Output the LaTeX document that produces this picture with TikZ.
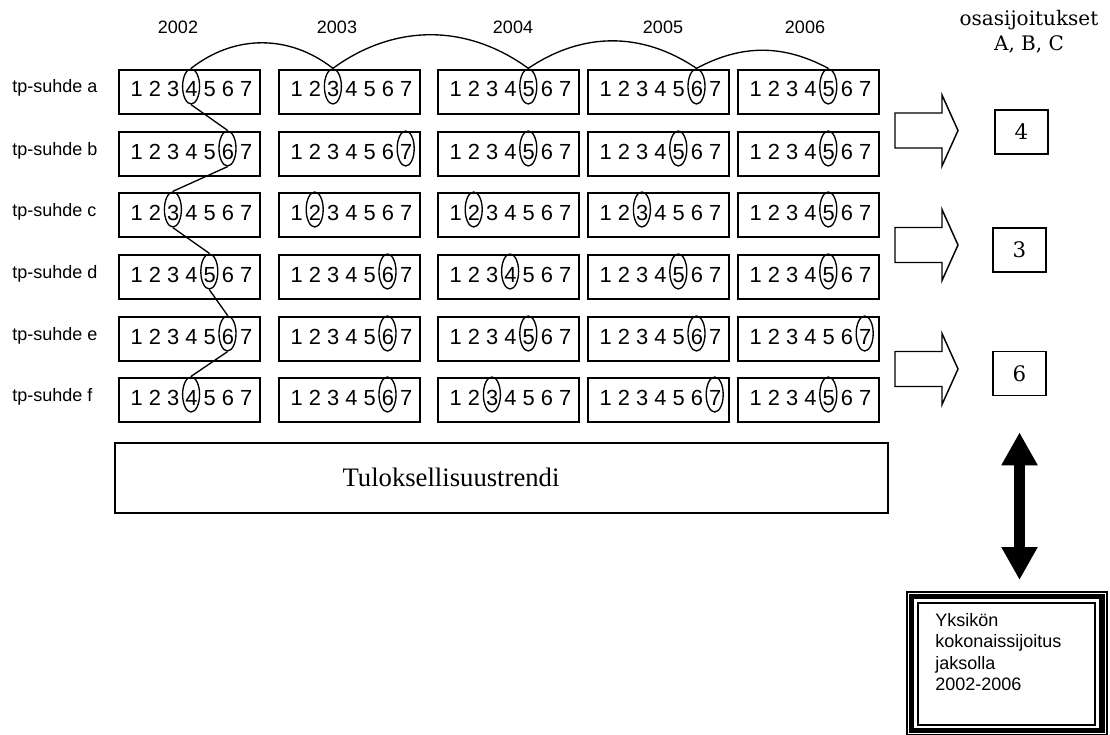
\documentclass[tikz,border=0pt]{standalone}
\usepackage{fontspec}
\setsansfont{Liberation Sans}
\newfontfamily\bookserif{DejaVu Serif}
\newfontfamily\timesserif{Liberation Serif}
\usepackage{tikz}
\usetikzlibrary{arrows.meta,positioning,calc,shapes.geometric}

\begin{document}
\begin{tikzpicture}[x=.75pt,y=-.75pt,font=\sffamily,
 numbox/.style={draw,line width=1.4pt,anchor=north west,minimum width=105.75pt,minimum height=33pt,inner sep=0pt},
 digits/.style={anchor=base,inner sep=0pt,font=\sffamily\fontsize{16.4}{19}\selectfont},
 pick/.style={draw,ellipse,line width=1pt,minimum width=12.75pt,minimum height=26.25pt,inner sep=0pt},
 lbl/.style={inner sep=0pt,font=\sffamily\fontsize{13.5}{16}\selectfont},
 rank/.style={draw,line width=1.2pt,minimum width=39.75pt,minimum height=33pt,inner sep=0pt,font=\bookserif\fontsize{16}{19}\selectfont},
 link/.style={line width=1pt}]
\useasboundingbox (0,0) rectangle (1110,735);
\foreach \yr/\x in {2002/178,2003/337,2004/513,2005/663,2006/805}
 \node[lbl,anchor=base] (y\yr) at (\x,34) {\yr};
\foreach \row/\ty/\ka/\kb/\kc/\kd/\ke in {a/69/4/3/5/6/5,b/131/6/7/5/5/5,c/192/3/2/2/3/5,d/254/5/6/4/5/5,e/316/6/6/5/6/7,f/377/4/6/3/7/5}{
 \node[lbl,anchor=base west] (l-\row) at ({12},{\ty+24}) {tp-suhde \row};
 \foreach \col/\bx/\pk in {1/118/\ka,2/278/\kb,3/437/\kc,4/587/\kd,5/737/\ke}{
  \node[numbox] (b-\row-\col) at (\bx,\ty) {};
  \node[digits] (t-\row-\col) at ({\bx+73.5},{\ty+28}) {1 2 3 4 5 6 7};
  \node[pick] (p-\row-\col) at ({\bx+18.5+18.2*(\pk-1)},{\ty+17.5}) {};
 }
}
\draw[link] (p-a-1.north) to[bend left=38] (p-a-2.north) to[bend left=36] (p-a-3.north)
 to[bend left=34] (p-a-4.north) to[bend left=28] (p-a-5.north);
\foreach \u/\v in {a/b,b/c,c/d,d/e,e/f}
 \draw[link] (p-\u-1.south) -- (p-\v-1.north);
\foreach \yc in {130.5,245,369}
 \draw[line width=1.1pt] ({895},{\yc-17.5}) -- ({942},{\yc-17.5}) -- ({942},{\yc-35.5}) -- ({958},{\yc})
  -- ({942},{\yc+35.5}) -- ({942},{\yc+17.5}) -- ({895},{\yc+17.5}) -- cycle;
\node[font=\bookserif\fontsize{15}{18.75}\selectfont,align=center,inner sep=0pt] (head) at (1029,32) {osasijoitukset\\A, B, C};
\node[rank] (r1) at (1021.5,132) {4};
\node[rank] (r2) at (1019.5,250) {3};
\node[rank] (r3) at (1019.5,373.5) {6};
\node[draw,line width=1.3pt,anchor=north west,minimum width=579.75pt,minimum height=52.5pt] (trend) at (114,442) {};
\node[font=\timesserif\fontsize{20}{24}\selectfont] (trendtxt) at (451,477) {Tuloksellisuustrendi};
\node[draw,line width=1.4pt,anchor=north west,minimum width=150pt,minimum height=107.25pt] (total) at (906,591) {};
\draw[line width=4.2pt] ([shift={(5.5,5.5)}]total.north west) rectangle ([shift={(-6,-5.5)}]total.south east);
\draw[line width=1.4pt] ([shift={(12,12)}]total.north west) rectangle ([shift={(-13,-11)}]total.south east);
\node[anchor=north west,align=left,inner sep=0pt,font=\sffamily\fontsize{13.5}{16.1}\selectfont] (totaltxt) at (935,613) {Yksikön\\kokonaissijoitus\\jaksolla\\2002-2006};
\draw[line width=8.25pt,{Triangle[length=24.75pt,width=25.5pt]}-{Triangle[length=24.75pt,width=25.5pt]},shorten <=27pt,shorten >=8.25pt] (r3.south) -- (r3.south |- total.north);
\end{tikzpicture}
\end{document}
